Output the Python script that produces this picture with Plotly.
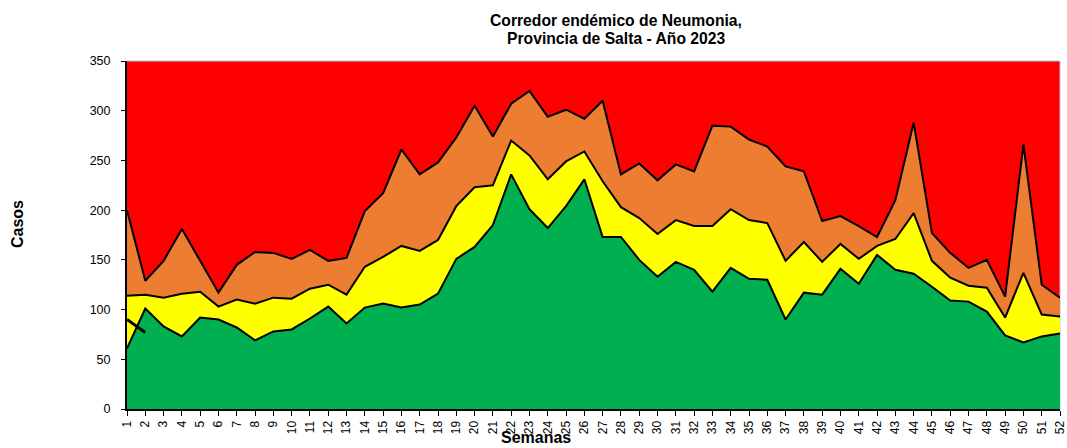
import plotly.graph_objects as go

weeks = list(range(1, 53))
exito = [61, 101, 83, 73, 92, 90, 82, 69, 78, 80, 91, 103, 86, 102, 106, 102, 105, 116, 151, 163,
         185, 236, 201, 182, 204, 231, 173, 173, 150, 133, 148, 140, 118, 142, 131, 130, 90, 117, 115, 141,
         126, 155, 140, 136, 123, 109, 108, 98, 74, 67, 73, 76]
seguridad = [114, 115, 112, 116, 118, 103, 110, 106, 112, 111, 121, 125, 115, 143, 153, 164, 159, 170, 204, 223,
             225, 270, 255, 231, 249, 259, 229, 203, 192, 176, 190, 184, 184, 201, 190, 187, 149, 168, 148, 166,
             151, 164, 171, 197, 149, 132, 124, 122, 92, 137, 95, 93]
alerta = [200, 129, 149, 181, 149, 117, 145, 158, 157, 151, 160, 149, 152, 199, 217, 261, 236, 248, 273, 305,
          274, 307, 320, 294, 301, 292, 310, 236, 247, 230, 246, 239, 285, 284, 271, 264, 244, 239, 189, 194,
          184, 173, 210, 288, 177, 157, 142, 150, 113, 266, 125, 112]
casos_2023_weeks = [1, 2]
casos_2023 = [90, 77]

y_max = 350
title_line1 = "Corredor endémico de Neumonia,"
title_line2 = "Provincia de Salta - Año 2023"

W, H = 1067, 448
L, R, T, B = 127, 7, 61, 39
PW, PH = W - L - R, H - T - B


def px_x(x):
    return (x - L) / PW


def px_y(y):
    return (H - B - y) / PH


fig = go.Figure()
fig.add_trace(go.Scatter(x=weeks, y=exito, mode="lines", fill="tozeroy", fillcolor="#00B050",
                         line=dict(color="black", width=2), name="Éxito"))
fig.add_trace(go.Scatter(x=weeks, y=seguridad, mode="lines", fill="tonexty", fillcolor="#FFFF00",
                         line=dict(color="black", width=2), name="Seguridad"))
fig.add_trace(go.Scatter(x=weeks, y=alerta, mode="lines", fill="tonexty", fillcolor="#ED7D31",
                         line=dict(color="black", width=2), name="Alerta"))
fig.add_trace(go.Scatter(x=casos_2023_weeks, y=casos_2023, mode="lines",
                         line=dict(color="black", width=3), name="Casos 2023"))

fig.update_layout(
    width=W, height=H,
    margin=dict(l=L, r=R, t=T, b=B),
    paper_bgcolor="white",
    plot_bgcolor="#FF0000",
    showlegend=False,
    font=dict(family="Liberation Sans, Arial, sans-serif", color="black", size=12),
)
fig.update_xaxes(range=[1, 52], tickmode="array", tickvals=weeks, ticktext=[str(w) for w in weeks],
                 tickangle=-90, showgrid=False, zeroline=False, showline=True, linecolor="black",
                 linewidth=2, ticks="outside", ticklen=5, tickcolor="black", tickfont=dict(size=12),
                 automargin=False)
fig.update_yaxes(range=[0, y_max], dtick=50, showgrid=False, zeroline=False, showline=True,
                 linecolor="black", linewidth=2, ticks="outside", ticklen=4, tickcolor="black",
                 tickfont=dict(size=12.5), automargin=False, ticklabelstandoff=8)
# thin light border on top and right of the plot area
fig.add_shape(type="line", xref="paper", yref="paper", x0=0, x1=1, y0=1, y1=1,
              line=dict(color="#A9C4EB", width=1))
fig.add_shape(type="line", xref="paper", yref="paper", x0=1, x1=1, y0=0, y1=1,
              line=dict(color="#A9C4EB", width=1), layer="below")
fig.add_annotation(text="<b>" + title_line1 + "</b>", xref="paper", yref="paper",
                   x=px_x(616), y=px_y(21), xanchor="center", yanchor="middle",
                   showarrow=False, font=dict(size=15.7))
fig.add_annotation(text="<b>" + title_line2 + "</b>", xref="paper", yref="paper",
                   x=px_x(616), y=px_y(38), xanchor="center", yanchor="middle",
                   showarrow=False, font=dict(size=15.7))
fig.add_annotation(text="<b>Casos</b>", xref="paper", yref="paper", x=px_x(18), y=px_y(224),
                   textangle=-90, showarrow=False, font=dict(size=16), xanchor="center", yanchor="middle")
fig.add_annotation(text="<b>Semanas</b>", xref="paper", yref="paper", x=px_x(536), y=px_y(437),
                   showarrow=False, font=dict(size=16), xanchor="center", yanchor="middle")
fig.write_html("out.html", post_script="document.body.style.margin='0';",
               config={"displayModeBar": False})
